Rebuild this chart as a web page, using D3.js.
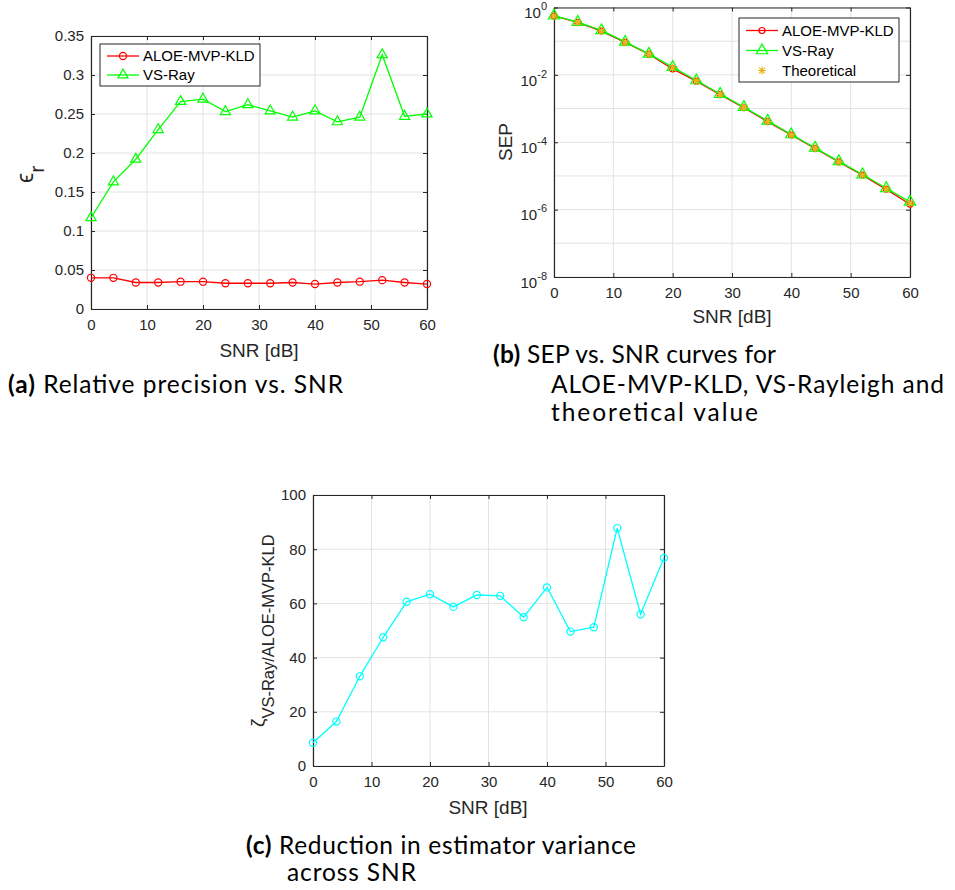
<!DOCTYPE html>
<html>
<head>
<meta charset="utf-8">
<script src="https://cdn.jsdelivr.net/npm/d3@7"></script>
<style>
  body { margin: 0; background: #fff; }
  svg { display: block; }
  .tick text { font-family: "Liberation Sans", Arial, sans-serif; font-size: 15px; fill: #262626; }
  .axlabel { font-family: "Liberation Sans", Arial, sans-serif; font-size: 19px; fill: #262626; }
  .legend text { font-family: "Liberation Sans", Arial, sans-serif; font-size: 15px; fill: #000; }
  .caption { font-family: Lato, sans-serif; font-size: 24.5px; fill: #000; }
</style>
</head>
<body>
<svg id="fig" width="955" height="890"></svg>
<script>
// SNR points shared by all three panels
const snr = [0, 4, 8, 12, 16, 20, 24, 28, 32, 36, 40, 44, 48, 52, 56, 60];

// (a) relative precision
const epsAloe  = [0.040, 0.040, 0.034, 0.034, 0.035, 0.035, 0.033, 0.033, 0.033, 0.034, 0.032, 0.034, 0.035, 0.037, 0.034, 0.032];
const epsVsRay = [0.117, 0.163, 0.192, 0.230, 0.266, 0.269, 0.253, 0.262, 0.254, 0.246, 0.254, 0.240, 0.246, 0.326, 0.247, 0.250];

// (b) SEP curves
const sepAloe   = [0.56, 0.36, 0.20, 0.092, 0.041, 0.015, 0.0065, 0.0026, 0.00106, 4.1e-4, 1.64e-4, 6.5e-5, 2.6e-5, 1.06e-5, 4.0e-6, 1.45e-6];
const sepVsRay  = [0.57, 0.37, 0.21, 0.095, 0.042, 0.017, 0.0068, 0.0027, 0.00110, 4.3e-4, 1.70e-4, 6.8e-5, 2.7e-5, 1.10e-5, 4.3e-6, 1.70e-6];
const sepTheory = [0.56, 0.36, 0.20, 0.093, 0.041, 0.016, 0.0066, 0.0026, 0.00107, 4.1e-4, 1.65e-4, 6.6e-5, 2.6e-5, 1.07e-5, 4.1e-6, 1.55e-6];

// (c) variance reduction
const zeta = [8.6, 16.4, 33.1, 47.5, 60.6, 63.4, 58.7, 63.1, 62.8, 54.9, 65.9, 49.6, 51.2, 87.8, 56.0, 76.8];

// tick labels
const xTicks    = [0, 10, 20, 30, 40, 50, 60];
const epsTicks  = [0, 0.05, 0.1, 0.15, 0.2, 0.25, 0.3, 0.35];
const sepTicks  = [1e-8, 1e-6, 1e-4, 1e-2, 1];
const sepGrid   = [1e-8, 1e-7, 1e-6, 1e-5, 1e-4, 1e-3, 1e-2, 1e-1, 1];
const zetaTicks = [0, 20, 40, 60, 80, 100];

const RED = '#ff0000', GREEN = '#00ff00', CYAN = '#00ffff', ORANGE = '#edb120';
const AX = '#262626', GRID = '#e3e3e3';

const svg = d3.select('#fig');

function frame(g, x, y, yTickVals, yGridVals, yFmt) {
    let [x0, x1] = x.range();
    let [y0, y1] = y.range(); // y0 bottom, y1 top

    // grid
    g.append('g').selectAll('line').data(xTicks).join('line')
        .attr('x1', d => x(d)).attr('x2', d => x(d))
        .attr('y1', y0).attr('y2', y1)
        .attr('stroke', GRID).attr('stroke-width', 1);
    g.append('g').selectAll('line').data(yGridVals).join('line')
        .attr('x1', x0).attr('x2', x1)
        .attr('y1', d => y(d)).attr('y2', d => y(d))
        .attr('stroke', GRID).attr('stroke-width', 1);

    let axes = [
        g.append('g').attr('transform', `translate(0,${y0})`)
            .call(d3.axisBottom(x).tickValues(xTicks).tickSize(-4).tickSizeOuter(0).tickPadding(10)),
        g.append('g').attr('transform', `translate(0,${y1})`)
            .call(d3.axisTop(x).tickValues(xTicks).tickSize(-4).tickSizeOuter(0).tickFormat('')),
        g.append('g').attr('transform', `translate(${x0},0)`)
            .call(d3.axisLeft(y).tickValues(yTickVals).tickSize(-4).tickSizeOuter(0).tickPadding(7).tickFormat(yFmt)),
        g.append('g').attr('transform', `translate(${x1},0)`)
            .call(d3.axisRight(y).tickValues(yTickVals).tickSize(-4).tickSizeOuter(0).tickFormat(''))
    ];
    axes.forEach(a => {
        a.select('.domain').attr('stroke', AX).attr('stroke-width', 1.2);
        a.selectAll('.tick line').attr('stroke', AX);
        a.attr('font-family', null).attr('font-size', null);
    });
    return axes;
}

function series(g, x, y, vals, color, marker, size) {
    let pts = snr.map((s, i) => [s, vals[i]]);
    if (marker !== 'star') {
        g.append('path').datum(pts)
            .attr('fill', 'none').attr('stroke', color).attr('stroke-width', 1.3)
            .attr('d', d3.line().x(d => x(d[0])).y(d => y(d[1])));
    }
    g.append('g').selectAll('path').data(pts).join('path')
        .attr('transform', d => `translate(${x(d[0])},${y(d[1])})`)
        .attr('fill', 'none').attr('stroke', color).attr('stroke-width', 1.2)
        .attr('d', markerPath(marker, size));
}

function markerPath(marker, size) {
    if (marker === 'circle') return d3.symbol(d3.symbolCircle, size)();
    if (marker === 'tri') return d3.symbol(d3.symbolTriangle, size)();
    let r = size, q = r * 0.7;
    return `M${-r},0H${r}M0,${-r}V${r}M${-q},${-q}L${q},${q}M${-q},${q}L${q},${-q}`;
}

function legend(g, x0, y0, w, rows) {
    let lg = g.append('g').attr('class', 'legend');
    lg.append('rect').attr('x', x0).attr('y', y0).attr('width', w).attr('height', rows.h)
        .attr('fill', '#fff').attr('stroke', AX).attr('stroke-width', 1);
    rows.items.forEach((it, i) => {
        let cy = y0 + rows.first + i * rows.step;
        if (it.line) {
            lg.append('line').attr('x1', x0 + 7).attr('x2', x0 + 39).attr('y1', cy).attr('y2', cy)
                .attr('stroke', it.color).attr('stroke-width', 1.3);
        }
        lg.append('path').attr('transform', `translate(${x0 + 23},${cy})`)
            .attr('fill', 'none').attr('stroke', it.color).attr('stroke-width', 1.2)
            .attr('d', markerPath(it.marker, it.size));
        lg.append('text').attr('x', x0 + 43).attr('y', cy).attr('dy', '0.35em').text(it.name);
    });
}

// ---------- (a) ----------
{
    let g = svg.append('g');
    let x = d3.scaleLinear().domain([0, 60]).range([91, 427]);
    let y = d3.scaleLinear().domain([0, 0.35]).range([309, 36]);
    frame(g, x, y, epsTicks, epsTicks, d => String(+d.toFixed(2)));
    series(g, x, y, epsAloe, RED, 'circle', 40);
    series(g, x, y, epsVsRay, GREEN, 'tri', 45);
    legend(g, 100, 44, 160, {h: 42, first: 12, step: 19, items: [
        {name: 'ALOE-MVP-KLD', color: RED, marker: 'circle', size: 40, line: true},
        {name: 'VS-Ray', color: GREEN, marker: 'tri', size: 45, line: true}
    ]});
    g.append('text').attr('class', 'axlabel').attr('x', 259).attr('y', 357)
        .attr('text-anchor', 'middle').text('SNR [dB]');
    let yl = g.append('text').attr('class', 'axlabel')
        .attr('transform', 'translate(33,183) rotate(-90)');
    yl.append('tspan').style('font-size', '23px').text('ϵ');
    yl.append('tspan').style('font-size', '21px').attr('dy', 11).text('r');
}

// ---------- (b) ----------
{
    let g = svg.append('g');
    let x = d3.scaleLinear().domain([0, 60]).range([554, 910]);
    let y = d3.scaleLog().domain([1e-8, 1]).range([277, 7.5]);
    let axes = frame(g, x, y, sepTicks, sepGrid, d => d);
    // log tick labels as 10^n, block centred on the tick like MATLAB
    axes[2].selectAll('.tick text').each(function (d) {
        let t = d3.select(this).text('').attr('dy', '0.68em');
        t.append('tspan').text('10');
        t.append('tspan').attr('dy', -8).style('font-size', '11px').text(Math.round(Math.log10(d)));
    });
    series(g, x, y, sepAloe, RED, 'circle', 28);
    series(g, x, y, sepVsRay, GREEN, 'tri', 55);
    series(g, x, y, sepTheory, ORANGE, 'star', 4);
    legend(g, 739, 18, 160, {h: 64, first: 12.5, step: 20, items: [
        {name: 'ALOE-MVP-KLD', color: RED, marker: 'circle', size: 28, line: true},
        {name: 'VS-Ray', color: GREEN, marker: 'tri', size: 55, line: true},
        {name: 'Theoretical', color: ORANGE, marker: 'star', size: 4, line: false}
    ]});
    g.append('text').attr('class', 'axlabel').attr('x', 732).attr('y', 323)
        .attr('text-anchor', 'middle').text('SNR [dB]');
    g.append('text').attr('class', 'axlabel').attr('text-anchor', 'middle')
        .attr('transform', 'translate(512,142) rotate(-90)').text('SEP');
}

// ---------- (c) ----------
{
    let g = svg.append('g');
    let x = d3.scaleLinear().domain([0, 60]).range([313, 664]);
    let y = d3.scaleLinear().domain([0, 100]).range([766, 495]);
    frame(g, x, y, zetaTicks, zetaTicks, d => d);
    series(g, x, y, zeta, CYAN, 'circle', 40);
    g.append('text').attr('class', 'axlabel').attr('x', 488).attr('y', 814)
        .attr('text-anchor', 'middle').text('SNR [dB]');
    let yl = g.append('text').attr('class', 'axlabel')
        .attr('transform', 'translate(264,727) rotate(-90)');
    yl.append('tspan').style('font-size', '19px').text('ζ');
    yl.append('tspan').style('font-size', '16.5px').attr('dy', 10).text('VS-Ray/ALOE-MVP-KLD');
}

// ---------- captions ----------
function caption(x, y, width, tag, rest) {
    let t = svg.append('text').attr('class', 'caption').attr('x', x).attr('y', y)
        .attr('textLength', width).attr('lengthAdjust', 'spacing');
    if (tag) {
        t.append('tspan').style('font-weight', 'bold').text(tag);
        t.append('tspan').text(' ' + rest);
    } else {
        t.text(rest);
    }
}
caption(8, 393, 335, '(a)', 'Relative precision vs. SNR');
caption(493, 363, 283, '(b)', 'SEP vs. SNR curves for');
caption(551, 393, 393, null, 'ALOE-MVP-KLD, VS-Rayleigh and');
caption(551, 421, 207, null, 'theoretical value');
caption(246, 854, 390, '(c)', 'Reduction in estimator variance');
caption(287, 881, 129, null, 'across SNR');
</script>
</body>
</html>
